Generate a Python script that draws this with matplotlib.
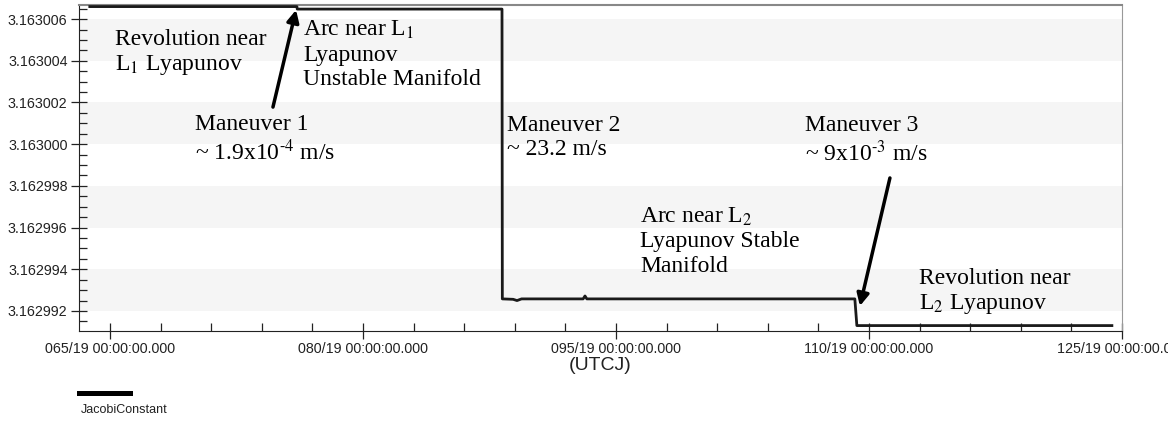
import matplotlib
matplotlib.use("Agg")
import matplotlib.pyplot as plt
from matplotlib.ticker import FixedLocator, MultipleLocator, FuncFormatter, FormatStrFormatter
from matplotlib.lines import Line2D

# ---- data (day of year 2019, Jacobi constant) ----
days = [63.8, 76.08, 76.1, 88.24, 88.26, 88.9, 89.13, 89.4,
        93.05, 93.16, 93.27, 109.16, 109.28, 124.4]
jacobi = [3.1630066, 3.1630066, 3.16300648, 3.16300648, 3.16299258,
          3.16299256, 3.1629925, 3.16299258, 3.16299258, 3.16299272,
          3.16299258, 3.16299258, 3.1629913, 3.1629913]

x_major = [65, 80, 95, 110, 125]
x_minor = [68, 71, 74, 77, 83, 86, 89, 92, 98, 101, 104, 107, 113, 116, 119, 122]
y_bands = [(3.162992, 3.162994), (3.162996, 3.162998),
           (3.163000, 3.163002), (3.163004, 3.163006)]

# annotations: (text, x axes-frac, y axes-frac)
labels = [
    ("Revolution near\nL$_1$ Lyapunov", 0.0345, 0.925),
    ("Arc near L$_1$\nLyapunov\nUnstable Manifold", 0.2148, 0.955),
    ("Maneuver 1\n~ 1.9x10$^{\\text{-}4}$ m/s", 0.1112, 0.664),
    ("Maneuver 2\n~ 23.2 m/s", 0.4104, 0.661),
    ("Maneuver 3\n~ 9x10$^{\\text{-}3}$ m/s", 0.696, 0.661),
    ("Arc near L$_2$\nLyapunov Stable\nManifold", 0.5379, 0.383),
    ("Revolution near\nL$_2$ Lyapunov", 0.8054, 0.193),
]
# arrows: (tail day, tail value, tip day, tip value)
arrows = [
    (74.66, 3.16300178, 76.03, 3.16300644),
    (111.24, 3.16299838, 109.46, 3.16299224),
]

plt.rcParams['mathtext.fontset'] = 'stix'

W, H = 1168, 423
fig = plt.figure(figsize=(W / 100, H / 100), dpi=100)
ax = fig.add_axes([79 / W, (H - 331) / H, (1122 - 79) / W, (331 - 4.5) / H])

for lo, hi in y_bands:
    ax.axhspan(lo, hi, color='#f5f5f5', lw=0, zorder=0)

ax.plot(days, jacobi, color='#1a1a1a', lw=2.0, zorder=3)

ax.set_xlim(63.16, 125)
ax.set_ylim(3.16299104, 3.1630067)

ax.xaxis.set_major_locator(FixedLocator(x_major))
ax.xaxis.set_minor_locator(FixedLocator(x_minor))
ax.xaxis.set_major_formatter(FuncFormatter(lambda v, p: f"{int(round(v)):03d}/19 00:00:00.000"))
ax.yaxis.set_major_locator(MultipleLocator(2e-6))
ax.yaxis.set_minor_locator(MultipleLocator(5e-7))
ax.yaxis.set_major_formatter(FormatStrFormatter('%.6f'))

ax.tick_params(which='major', direction='inout', length=11.5, width=0.9, color='#222222',
               labelsize=10.3, labelcolor='#222222')
ax.tick_params(which='minor', direction='in', length=6, width=0.9, color='#222222')
ax.tick_params(axis='x', pad=2)
ax.tick_params(axis='y', pad=2.5)
for lab in ax.get_xticklabels() + ax.get_yticklabels():
    lab.set_fontfamily('Liberation Sans')

ax.set_xlabel("(UTCJ)", fontsize=14, fontfamily='Liberation Sans', color='#222222', labelpad=1)

ax.spines['left'].set_color('#222222')
ax.spines['bottom'].set_color('#222222')
ax.spines['top'].set_color('#888888')
ax.spines['top'].set_linewidth(1.5)
ax.spines['right'].set_color('#999999')
ax.spines['right'].set_linewidth(0.8)

for txt, fx, fy in labels:
    ax.text(fx, fy, txt, transform=ax.transAxes, ha='left', va='top',
            fontsize=17, fontfamily='Liberation Serif', linespacing=1.2, zorder=5)

for x0, y0, x1, y1 in arrows:
    ax.annotate("", xy=(x1, y1), xytext=(x0, y0),
                arrowprops=dict(arrowstyle='-|>', lw=2.5, color='black',
                                mutation_scale=18, shrinkA=0, shrinkB=0), zorder=6)

# legend below the plot
fig.add_artist(Line2D([79 / W, 130 / W], [(H - 393) / H] * 2, color='black', lw=3.6))
fig.text(81 / W, (H - 410) / H, "JacobiConstant", fontsize=9, fontfamily='Liberation Sans',
         color='#222222', va='center', ha='left')

fig.savefig("out.png", dpi=100)
